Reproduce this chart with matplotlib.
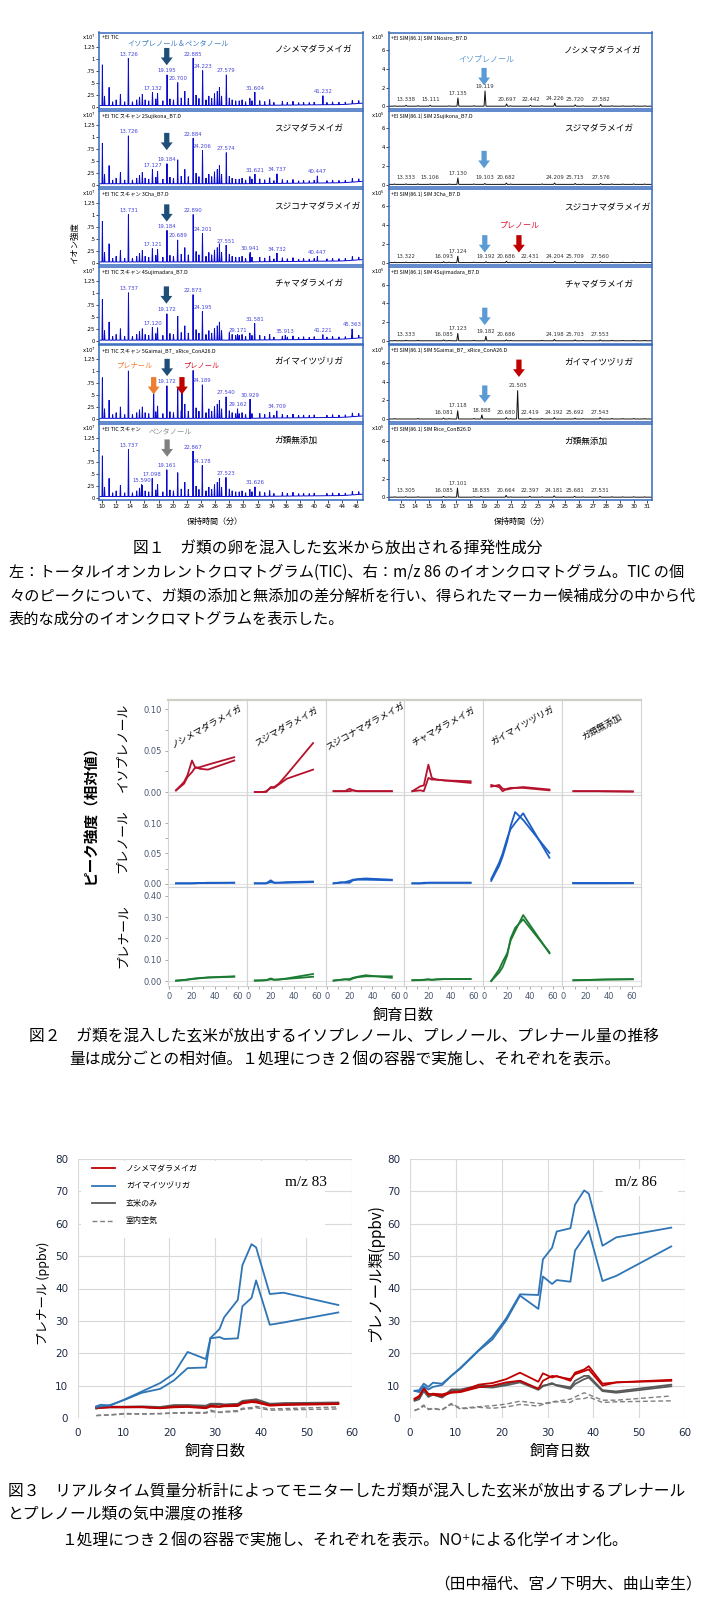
import matplotlib
matplotlib.use('Agg')
import matplotlib.pyplot as plt
from matplotlib.patches import Rectangle
from matplotlib.lines import Line2D
import numpy as np

plt.rcParams['font.family'] = ['Noto Sans CJK JP', 'DejaVu Sans']
plt.rcParams['axes.unicode_minus'] = False

# ======================= DATA =======================
# ---- Figure 1 ----
species = ['ノシメマダラメイガ', 'スジマダラメイガ', 'スジコナマダラメイガ',
           'チャマダラメイガ', 'ガイマイツヅリガ', 'ガ類無添加']
tic_headers = ['+EI TIC', '+EI TIC スキャン 2Sujikona_B7.D', '+EI TIC スキャン 3Cha_B7.D',
               '+EI TIC スキャン 4Sujimadara_B7.D', '+EI TIC スキャン 5Gaimai_B7_ xRice_ConA26.D',
               '+EI TIC スキャン']
sim_headers = ['+EI SIM(86.1) SIM 1Nosiro_B7.D', '+EI SIM(86.1) SIM 2Sujikona_B7.D',
               '+EI SIM(86.1) SIM 3Cha_B7.D', '+EI SIM(86.1) SIM 4Sujimadara_B7.D',
               '+EI SIM(86.1) SIM 5Gaimai_B7_ xRice_ConA26.D', '+EI SIM(86.1) SIM Rice_ConB26.D']

# common small TIC peaks (min, x10^7)
tic_bg_t = [10.05, 10.35, 11.0, 11.5, 12.0, 12.6, 13.2, 14.3, 14.9, 15.3, 15.7, 16.1, 16.6,
            17.6, 17.85, 18.6, 19.6, 20.1, 21.2, 21.7, 22.2, 23.3, 23.7, 24.7, 25.1, 25.5,
            25.9, 26.3, 26.6, 26.9, 28.0, 28.4, 28.9, 29.4, 29.8, 30.3, 30.9, 31.2, 32.3,
            33.0, 33.7, 34.3, 35.5, 36.2, 37.0, 37.8, 38.5, 39.3, 40.0, 41.8, 42.6, 43.5,
            44.4, 45.4, 46.3]
tic_bg_h = [0.85, 0.20, 0.38, 0.08, 0.12, 0.24, 0.08, 0.08, 0.12, 0.18, 0.24, 0.12, 0.10,
            0.14, 0.26, 0.10, 0.14, 0.12, 0.16, 0.30, 0.15, 0.22, 0.15, 0.12, 0.20, 0.15,
            0.25, 0.30, 0.38, 0.20, 0.16, 0.12, 0.10, 0.10, 0.12, 0.08, 0.15, 0.10, 0.10,
            0.08, 0.12, 0.06, 0.08, 0.06, 0.08, 0.05, 0.06, 0.05, 0.06, 0.05, 0.06, 0.05,
            0.05, 0.08, 0.06]
tic_base_t = [9.57, 30.0, 44.0, 46.9]
tic_base_h = [0.02, 0.02, 0.04, 0.07]

tic_pk_t = [
    [13.726, 17.132, 19.195, 20.700, 22.885, 24.223, 27.579, 31.604, 41.232],
    [13.726, 17.127, 19.184, 20.700, 22.884, 24.206, 27.574, 31.621, 34.737, 40.447],
    [13.731, 17.121, 19.184, 20.689, 22.890, 24.201, 27.551, 30.941, 34.732, 40.447],
    [13.737, 17.120, 19.172, 20.700, 22.873, 24.195, 29.171, 31.581, 35.913, 41.221, 45.363],
    [13.730, 17.300, 19.172, 20.700, 21.300, 22.880, 24.189, 27.540, 29.162, 30.929, 34.709],
    [13.737, 15.590, 17.098, 19.161, 20.700, 22.867, 24.178, 27.523, 31.626],
]
tic_pk_h = [
    [0.99, 0.28, 0.64, 0.48, 0.99, 0.73, 0.64, 0.28, 0.19],
    [1.00, 0.30, 0.42, 0.50, 0.95, 0.70, 0.65, 0.20, 0.20, 0.15],
    [0.99, 0.28, 0.66, 0.46, 0.99, 0.60, 0.35, 0.20, 0.18, 0.10],
    [0.99, 0.27, 0.55, 0.50, 0.95, 0.60, 0.12, 0.35, 0.10, 0.10, 0.20],
    [0.99, 0.52, 0.68, 0.62, 0.55, 1.00, 0.70, 0.45, 0.20, 0.40, 0.15],
    [0.99, 0.25, 0.38, 0.56, 0.50, 0.95, 0.65, 0.40, 0.20],
]
tic_pk_lab = [
    [1, 1, 1, 1, 1, 1, 1, 1, 1],
    [1, 1, 1, 0, 1, 1, 1, 1, 1, 1],
    [1, 1, 1, 1, 1, 1, 1, 1, 1, 1],
    [1, 1, 1, 0, 1, 1, 1, 1, 1, 1, 1],
    [0, 0, 1, 0, 0, 0, 1, 1, 1, 1, 1],
    [1, 1, 1, 1, 0, 1, 1, 1, 1],
]

sim_bg_t = [12.5, 14.2, 16.5, 18.3, 21.0, 23.3, 26.3, 28.4, 29.2, 30.0, 30.8]
sim_bg_h = [0.04, 0.05, 0.04, 0.05, 0.04, 0.05, 0.04, 0.05, 0.04, 0.05, 0.04]
sim_pk_t = [
    [13.338, 15.111, 17.135, 19.119, 20.697, 22.442, 24.226, 25.720, 27.582],
    [13.333, 15.106, 17.130, 19.103, 20.682, 24.209, 25.715, 27.576],
    [13.322, 16.093, 17.124, 19.192, 20.686, 22.431, 24.204, 25.709, 27.560],
    [13.333, 16.085, 17.123, 19.182, 20.686, 24.198, 25.703, 27.553],
    [16.081, 17.118, 18.888, 20.680, 21.505, 22.419, 24.192, 25.692, 27.543],
    [13.305, 16.085, 17.101, 18.835, 20.664, 22.397, 24.181, 25.681, 27.531],
]
sim_pk_h = [
    [0.10, 0.10, 0.90, 1.65, 0.25, 0.10, 0.35, 0.15, 0.20],
    [0.05, 0.05, 0.70, 0.10, 0.15, 0.15, 0.10, 0.10],
    [0.05, 0.10, 0.70, 0.10, 0.15, 0.10, 0.15, 0.10, 0.10],
    [0.05, 0.10, 0.80, 0.50, 0.10, 0.15, 0.10, 0.10],
    [0.10, 0.90, 0.45, 0.15, 3.05, 0.10, 0.15, 0.10, 0.15],
    [0.05, 0.10, 1.00, 0.10, 0.20, 0.10, 0.15, 0.10, 0.10],
]

# arrows (row, time, tip, colour)
tic_arrow_row = [0, 1, 2, 3, 4, 4, 4, 5]
tic_arrow_t = [19.15, 19.15, 19.15, 19.10, 19.20, 17.30, 21.30, 19.20]
tic_arrow_tip = [0.86, 0.72, 0.86, 0.78, 0.90, 0.52, 0.52, 0.85]
tic_arrow_c = ['navy', 'navy', 'navy', 'navy', 'navy', 'orange', 'red', 'gray']
sim_arrow_row = [0, 1, 2, 2, 3, 4, 4]
sim_arrow_t = [19.05, 19.05, 19.10, 21.60, 19.10, 19.10, 21.60]
sim_arrow_tip = [2.25, 1.75, 1.10, 1.10, 1.70, 1.75, 4.50]
sim_arrow_c = ['light', 'light', 'light', 'red', 'light', 'light', 'red']

tic_note_row = [0, 4, 4, 5]
tic_note_t = [20.7, 14.6, 24.0, 19.6]
tic_note_y = [1.32, 1.12, 1.12, 1.35]
tic_note_txt = ['イソプレノール＆ペンタノール', 'プレナール', 'プレノール', 'ペンタノール']
tic_note_c = ['#3C7DC4', '#ED7D31', '#D0102A', '#8C8C8C']
sim_note_row = [0, 2]
sim_note_t = [19.2, 21.7]
sim_note_y = [5.0, 4.0]
sim_note_txt = ['イソプレノール', 'プレノール']
sim_note_c = ['#5B9BD5', '#E0102F']

# ---- Figure 2 ----
f2_species = species
f2_rows = ['イソプレノール', 'プレノール', 'プレナール']
f2_days = [6, 13, 16, 20, 23, 27, 34, 57]
f2_days_ctrl = [9, 16, 19, 23, 26, 30, 37, 61]
iso_a = [[0.002, 0.012, 0.020, 0.038, 0.029, 0.030, 0.033, 0.042],
         [0.000, 0.000, 0.000, 0.006, 0.006, 0.010, 0.021, 0.059],
         [0.001, 0.001, 0.001, 0.004, 0.002, 0.001, 0.001, 0.001],
         [0.001, 0.007, 0.008, 0.033, 0.017, 0.015, 0.014, 0.013],
         [0.0085, 0.006, 0.001, 0.004, 0.005, 0.005, 0.006, 0.003],
         [0.001, 0.001, 0.001, 0.001, 0.001, 0.001, 0.0008, 0.0005]]
iso_b = [[0.002, 0.010, 0.018, 0.024, 0.030, 0.028, 0.027, 0.038],
         [0.000, 0.000, 0.001, 0.005, 0.005, 0.009, 0.016, 0.027],
         [0.001, 0.001, 0.001, 0.001, 0.002, 0.001, 0.001, 0.001],
         [0.001, 0.002, 0.001, 0.017, 0.015, 0.015, 0.014, 0.011],
         [0.0065, 0.0085, 0.004, 0.003, 0.004, 0.005, 0.005, 0.002],
         [0.001, 0.001, 0.001, 0.001, 0.001, 0.001, 0.001, 0.0007]]
pol_a = [[0.001, 0.001, 0.001, 0.001, 0.001, 0.0015, 0.0015, 0.002],
         [0.001, 0.001, 0.001, 0.006, 0.002, 0.002, 0.002, 0.003],
         [0.001, 0.002, 0.003, 0.005, 0.007, 0.008, 0.009, 0.007],
         [0.001, 0.001, 0.002, 0.002, 0.002, 0.002, 0.002, 0.002],
         [0.005, 0.030, 0.045, 0.070, 0.095, 0.118, 0.105, 0.051],
         [0.001, 0.001, 0.001, 0.001, 0.001, 0.001, 0.001, 0.001]]
pol_b = [[0.001, 0.001, 0.001, 0.001, 0.0015, 0.0015, 0.002, 0.002],
         [0.001, 0.001, 0.001, 0.003, 0.002, 0.002, 0.003, 0.004],
         [0.001, 0.003, 0.002, 0.002, 0.006, 0.007, 0.007, 0.006],
         [0.001, 0.001, 0.001, 0.002, 0.002, 0.002, 0.002, 0.002],
         [0.008, 0.035, 0.050, 0.075, 0.090, 0.100, 0.116, 0.043],
         [0.001, 0.001, 0.001, 0.001, 0.001, 0.001, 0.001, 0.0012]]
nal_a = [[0.002, 0.005, 0.007, 0.010, 0.012, 0.014, 0.017, 0.022],
         [0.002, 0.003, 0.004, 0.012, 0.006, 0.007, 0.012, 0.033],
         [0.002, 0.006, 0.008, 0.009, 0.015, 0.020, 0.027, 0.015],
         [0.004, 0.005, 0.006, 0.008, 0.006, 0.008, 0.009, 0.010],
         [0.000, 0.055, 0.090, 0.130, 0.190, 0.235, 0.310, 0.130],
         [0.004, 0.004, 0.005, 0.005, 0.006, 0.006, 0.007, 0.009]]
nal_b = [[0.001, 0.004, 0.006, 0.009, 0.011, 0.013, 0.016, 0.020],
         [0.002, 0.003, 0.004, 0.008, 0.006, 0.007, 0.010, 0.020],
         [0.002, 0.006, 0.008, 0.005, 0.012, 0.018, 0.022, 0.022],
         [0.003, 0.004, 0.005, 0.007, 0.005, 0.007, 0.009, 0.009],
         [0.000, 0.040, 0.065, 0.120, 0.200, 0.250, 0.290, 0.135],
         [0.003, 0.004, 0.004, 0.005, 0.005, 0.006, 0.007, 0.008]]

# ---- Figure 3 ----
days83 = [4, 5, 7, 10, 14, 18, 21, 24, 28, 29, 31, 32, 35, 36, 38, 39, 42, 45, 57]
gai83_a = [3.6, 4.1, 3.8, 5.6, 8.2, 10.8, 13.7, 20.4, 18.2, 24.7, 27.5, 31.1, 36.5, 47.2, 53.7, 52.7, 38.3, 38.7, 34.9]
gai83_b = [3.4, 3.6, 4.0, 5.5, 7.8, 9.0, 11.6, 15.4, 15.6, 24.6, 25.0, 24.4, 24.6, 34.5, 37.1, 42.5, 28.8, 29.5, 32.6]
nos83_a = [3.4, 3.3, 3.4, 3.4, 3.4, 3.1, 3.5, 3.6, 3.2, 3.8, 3.6, 3.9, 4.0, 4.8, 5.2, 5.1, 4.0, 4.2, 4.5]
nos83_b = [3.2, 3.1, 3.3, 3.3, 3.3, 3.0, 3.3, 3.4, 3.0, 3.5, 3.4, 3.6, 3.7, 4.5, 4.9, 4.8, 3.8, 4.0, 4.3]
rice83_a = [3.0, 3.4, 3.5, 3.5, 3.6, 3.4, 4.0, 4.0, 3.8, 4.4, 4.4, 4.2, 4.4, 5.3, 5.6, 5.8, 4.4, 4.6, 4.8]
rice83_b = [2.9, 3.2, 3.3, 3.3, 3.4, 3.2, 3.7, 3.8, 3.5, 4.1, 4.2, 4.0, 4.2, 5.0, 5.3, 5.5, 4.2, 4.4, 4.6]
air83_a = [0.8, 0.9, 1.0, 1.4, 1.3, 1.4, 1.6, 1.7, 1.7, 2.4, 1.8, 2.0, 2.3, 3.0, 3.2, 3.6, 2.8, 2.9, 3.4]
air83_b = [0.7, 0.8, 0.9, 1.2, 1.2, 1.3, 1.5, 1.5, 1.5, 2.0, 1.7, 1.8, 2.0, 2.7, 2.9, 3.2, 2.4, 2.5, 2.8]

days86 = [1, 2, 3, 4, 5, 7, 9, 11, 15, 18, 21, 24, 28, 29, 31, 32, 35, 36, 38, 39, 42, 45, 57]
gai86_a = [8.4, 8.6, 10.6, 9.6, 10.9, 10.6, 13.0, 15.5, 21.0, 25.1, 30.8, 38.2, 38.0, 49.0, 52.6, 57.6, 58.6, 65.9, 70.3, 69.3, 53.2, 55.8, 58.8]
gai86_b = [8.4, 8.0, 9.8, 8.8, 9.6, 10.2, 13.0, 15.3, 20.8, 24.3, 30.2, 37.8, 33.7, 43.7, 41.4, 42.6, 42.1, 51.7, 55.8, 57.8, 42.3, 43.9, 53.0]
nos86_a = [5.8, 6.5, 9.5, 7.2, 7.5, 7.3, 8.0, 8.2, 10.3, 10.8, 12.0, 14.0, 11.2, 13.8, 12.5, 13.0, 11.5, 14.0, 15.0, 16.0, 10.6, 11.0, 11.8]
nos86_b = [6.0, 6.8, 9.0, 7.5, 7.2, 6.8, 7.8, 8.0, 9.5, 10.0, 11.0, 11.5, 9.0, 11.5, 13.0, 12.8, 12.0, 13.5, 14.5, 15.0, 10.0, 11.0, 11.5]
rice86_a = [5.5, 6.0, 8.8, 6.8, 7.5, 6.5, 8.8, 8.8, 10.0, 9.8, 10.5, 11.5, 9.0, 10.0, 10.5, 10.2, 9.5, 11.5, 13.0, 13.0, 8.6, 8.2, 10.3]
rice86_b = [5.3, 5.8, 8.3, 6.5, 7.2, 6.3, 8.5, 8.5, 9.6, 9.4, 10.1, 11.0, 8.7, 9.8, 10.8, 10.0, 9.0, 10.5, 12.0, 12.5, 8.3, 7.8, 9.8]
air86_a = [2.2, 3.0, 4.0, 2.8, 3.0, 2.6, 4.5, 3.0, 3.5, 3.8, 4.3, 5.2, 4.5, 4.4, 5.0, 5.2, 5.8, 6.5, 7.8, 7.2, 5.5, 5.5, 6.8]
air86_b = [2.5, 2.7, 3.7, 2.6, 2.8, 2.5, 4.2, 2.8, 3.3, 3.0, 3.4, 4.2, 3.7, 4.2, 4.8, 5.0, 4.8, 5.8, 6.0, 6.5, 4.8, 5.0, 5.3]
f3_legend = ['ノシメマダラメイガ', 'ガイマイツヅリガ', '玄米のみ', '室内空気']

# ======================= FIGURE =======================
W, H = 705, 1605
fig = plt.figure(figsize=(W / 100, H / 100), dpi=100)


def box(x0, y0, x1, y1):
    return fig.add_axes([x0 / W, 1 - y1 / H, (x1 - x0) / W, (y1 - y0) / H])


def ftext(x, y, s, **kw):
    fig.text(x / W, 1 - y / H, s, **kw)


def spikes(ax, ts, hs, base_t, base_h, w, color, lw):
    pts = sorted(zip(ts, hs))
    xs, ys = [base_t[0]], [base_h[0]]
    for t, h in pts:
        b = float(np.interp(t, base_t, base_h))
        xs += [t - w, t, t + w]
        ys += [b, b + h, b]
    xs.append(base_t[-1])
    ys.append(base_h[-1])
    ax.plot(xs, ys, color=color, lw=lw, solid_joinstyle='miter')


def down_arrow(ax, t, tip, length, color):
    ax.annotate('', xy=(t, tip), xytext=(t, tip + length),
                arrowprops=dict(arrowstyle='simple,head_length=0.62,head_width=0.95,tail_width=0.42',
                                fc=color, ec='none', shrinkA=0, shrinkB=0, mutation_scale=9))


arrow_cols = {'navy': '#1F4E79', 'light': '#5B9BD5', 'red': '#C00000',
              'orange': '#ED7D31', 'gray': '#7F7F7F'}
frame_c = '#3569BE'

L_X0, L_X1 = 99, 363
R_X0, R_X1 = 389, 652
ROW_TOP0, ROW_STEP, ROW_H = 32.5, 78.2, 76.5
L_XLIM, L_YLIM = (9.57, 46.9), (-0.052, 1.542)
R_XLIM, R_YLIM = (12.09, 31.34), (-0.27, 7.87)

left_axes, right_axes = [], []
for i in range(6):
    top = ROW_TOP0 + i * ROW_STEP
    axl = box(L_X0, top, L_X1, top + ROW_H)
    axr = box(R_X0, top, R_X1, top + ROW_H)
    left_axes.append(axl)
    right_axes.append(axr)

    # --- TIC
    spikes(axl, list(tic_bg_t) + tic_pk_t[i], list(tic_bg_h) + tic_pk_h[i],
           tic_base_t, tic_base_h, 0.06, '#0A0ACF', 0.7)
    for t, h, lab in zip(tic_pk_t[i], tic_pk_h[i], tic_pk_lab[i]):
        if lab:
            b = float(np.interp(t, tic_base_t, tic_base_h))
            axl.text(t, b + h + 0.03, f'{t:.3f}', fontsize=3.9, color='#4444DD',
                     ha='center', va='bottom', family='DejaVu Sans')
    axl.set_xlim(*L_XLIM)
    axl.set_ylim(*L_YLIM)
    axl.set_yticks([0, 0.25, 0.5, 0.75, 1.0, 1.25])
    axl.set_yticklabels(['0', '.25', '.5', '.75', '1', '1.25'], fontsize=3.8, family='DejaVu Sans')
    axl.tick_params(axis='y', length=2, width=0.5, pad=0.8)
    axl.text(-0.012, 1.0, 'x10$^7$', transform=axl.transAxes, fontsize=3.8, ha='right', va='top',
             family='DejaVu Sans')
    axl.text(0.012, 0.965, tic_headers[i], transform=axl.transAxes, fontsize=3.8, ha='left', va='top')
    axl.text(0.665, 0.78, species[i], transform=axl.transAxes, fontsize=6.2, ha='left', va='center')

    # --- SIM
    spikes(axr, list(sim_bg_t) + sim_pk_t[i], list(sim_bg_h) + sim_pk_h[i],
           [12.09, 31.34], [0.03, 0.03], 0.07, '#111111', 0.7)
    for t, h in zip(sim_pk_t[i], sim_pk_h[i]):
        axr.text(t, max(h, 0.2) + 0.25, f'{t:.3f}', fontsize=3.9, color='#333333',
                 ha='center', va='bottom', family='DejaVu Sans')
    axr.set_xlim(*R_XLIM)
    axr.set_ylim(*R_YLIM)
    axr.set_yticks([0, 2, 4, 6])
    axr.set_yticklabels(['0', '2', '4', '6'], fontsize=3.8, family='DejaVu Sans')
    axr.tick_params(axis='y', length=2, width=0.5, pad=0.8)
    axr.text(-0.015, 1.0, 'x10$^5$', transform=axr.transAxes, fontsize=3.8, ha='right', va='top',
             family='DejaVu Sans')
    axr.text(0.008, 0.965, sim_headers[i], transform=axr.transAxes, fontsize=3.8, ha='left', va='top')
    axr.text(0.665, 0.77, species[i], transform=axr.transAxes, fontsize=6.2, ha='left', va='center')

    for ax in (axl, axr):
        for s in ax.spines.values():
            s.set_color(frame_c)
            s.set_linewidth(1.1)
        if i < 5:
            ax.set_xticks([])
    if i == 5:
        axl.set_xticks(np.arange(10, 47, 2))
        axl.set_xticklabels([str(v) for v in range(10, 47, 2)], fontsize=4.0, family='DejaVu Sans')
        axr.set_xticks(np.arange(13, 32, 1))
        axr.set_xticklabels([str(v) for v in range(13, 32)], fontsize=4.0, family='DejaVu Sans')
        for ax in (axl, axr):
            ax.tick_params(axis='x', length=2, width=0.5, pad=1)

for r, t, tip, c in zip(tic_arrow_row, tic_arrow_t, tic_arrow_tip, tic_arrow_c):
    down_arrow(left_axes[r], t, tip, 0.36, arrow_cols[c])
for r, t, tip, c in zip(sim_arrow_row, sim_arrow_t, sim_arrow_tip, sim_arrow_c):
    down_arrow(right_axes[r], t, tip, 1.85, arrow_cols[c])
for r, t, y, s, c in zip(tic_note_row, tic_note_t, tic_note_y, tic_note_txt, tic_note_c):
    left_axes[r].text(t, y, s, fontsize=5.2, color=c, ha='center', va='center')
for r, t, y, s, c in zip(sim_note_row, sim_note_t, sim_note_y, sim_note_txt, sim_note_c):
    right_axes[r].text(t, y, s, fontsize=5.8, color=c, ha='center', va='center')

ftext(75, 243, 'イオン強度', fontsize=6.0, rotation=90, ha='center', va='center')
ftext(215, 521, '保持時間（分）', fontsize=5.8, ha='center', va='center')
ftext(522, 521, '保持時間（分）', fontsize=5.8, ha='center', va='center')

CAP = 11.3
CAP_BODY = 10.95
ftext(133, 549, '図１　ガ類の卵を混入した玄米から放出される揮発性成分', fontsize=CAP, va='center')
ftext(9, 572, '左：トータルイオンカレントクロマトグラム(TIC)、右：m/z 86 のイオンクロマトグラム。TIC の個',
      fontsize=CAP_BODY, va='center')
ftext(9, 596, '々のピークについて、ガ類の添加と無添加の差分解析を行い、得られたマーカー候補成分の中から代',
      fontsize=CAP_BODY, va='center')
ftext(9, 619, '表的な成分のイオンクロマトグラムを表示した。', fontsize=CAP_BODY, va='center')

# ---------------- Figure 2 ----------------
F2_X0, F2_CW = 168, 78.8
f2_rows_y = [(700, 795), (795, 887), (887, 986)]
f2_ylims = [(-0.0036, 0.111), (-0.005, 0.146), (-0.0235, 0.442)]
f2_yt = [[0, 0.05, 0.10], [0, 0.05, 0.10], [0, 0.1, 0.2, 0.3, 0.4]]
f2_ytl = [['0.00', '0.05', '0.10'], ['0.00', '0.05', '0.10'],
          ['0.00', '0.10', '0.20', '0.30', '0.40']]
f2_colors = ['#B5122D', '#1B5EC6', '#1B7B33']
f2_data = [(iso_a, iso_b), (pol_a, pol_b), (nal_a, nal_b)]
tick_c = '#4B5870'
for r in range(3):
    for c in range(6):
        x0 = F2_X0 + c * F2_CW
        ax = box(x0, f2_rows_y[r][0], x0 + F2_CW, f2_rows_y[r][1])
        dd = f2_days_ctrl if c == 5 else f2_days
        for series in f2_data[r]:
            ax.plot(dd, series[c], color=f2_colors[r], lw=1.3)
        ax.set_xlim(-1, 68)
        ax.set_ylim(*f2_ylims[r])
        ax.axhline(0, color='#E2E2E2', lw=0.8, zorder=0)
        for s in ax.spines.values():
            s.set_color('#D4D4D4')
            s.set_linewidth(0.8)
        if r == 0:
            ax.spines['top'].set_color('#CFCFC8')
            ax.spines['top'].set_linewidth(1.6)
            ax.text(0.5, 0.72, f2_species[c], transform=ax.transAxes, rotation=29,
                    fontsize=6.4, ha='center', va='center')
        if c == 0:
            ax.set_yticks(f2_yt[r])
            ax.set_yticklabels(f2_ytl[r], fontsize=6.0, color=tick_c, family='DejaVu Sans')
            if r < 2:
                ax.set_yticks([0.025, 0.075], minor=True)
            ax.tick_params(axis='y', which='both', length=2.5, width=0.6, color='#9A9A9A', pad=2)
        else:
            ax.set_yticks([])
        if r == 2:
            ax.set_xticks([0, 20, 40, 60])
            ax.set_xticklabels(['0', '20', '40', '60'], fontsize=6.0, color=tick_c, family='DejaVu Sans')
            ax.set_xticks([10, 30, 50], minor=True)
            ax.tick_params(axis='x', which='both', length=2.5, width=0.6, color='#9A9A9A', pad=2)
        else:
            ax.set_xticks([])

for r in range(3):
    ftext(123, sum(f2_rows_y[r]) / 2, f2_rows[r], fontsize=9.2, rotation=90, ha='center', va='center')
ftext(90, 811, 'ピーク強度（相対値）', fontsize=10.5, rotation=90, ha='center', va='center', weight='bold')
ftext(403, 1015, '飼育日数', fontsize=11, ha='center', va='center')

ftext(29, 1037, '図２　ガ類を混入した玄米が放出するイソプレノール、プレノール、プレナール量の推移',
      fontsize=CAP, va='center')
ftext(69, 1060, '量は成分ごとの相対値。１処理につき２個の容器で実施し、それぞれを表示。', fontsize=CAP, va='center')

# ---------------- Figure 3 ----------------
c_red, c_blue, c_gray, c_dash = '#C00000', '#2E75B6', '#595959', '#7F7F7F'
dash = (0, (3.5, 2))
axL = box(78, 1159, 352, 1418)
axR = box(410, 1159, 685, 1418)
f3_sets = [
    (axL, days83, [gai83_a, gai83_b], [nos83_a, nos83_b], [rice83_a, rice83_b], [air83_a, air83_b]),
    (axR, days86, [gai86_a, gai86_b], [nos86_a, nos86_b], [rice86_a, rice86_b], [air86_a, air86_b]),
]
for ax, dd, gai, nos, rice, air in f3_sets:
    for s in air:
        ax.plot(dd, s, color=c_dash, lw=1.0, ls=dash, zorder=2)
    for s in rice:
        ax.plot(dd, s, color=c_gray, lw=1.3, zorder=3)
    for s in nos:
        ax.plot(dd, s, color=c_red, lw=1.3, zorder=4)
    for s in gai:
        ax.plot(dd, s, color=c_blue, lw=1.3, zorder=5)
    ax.set_xlim(0, 60)
    ax.set_ylim(0, 80)
    ax.set_xticks(range(0, 61, 10))
    ax.set_yticks(range(0, 81, 10))
    ax.tick_params(length=0, labelsize=7.5, labelcolor='#1E2A44', pad=7)
    for lab in ax.get_xticklabels() + ax.get_yticklabels():
        lab.set_family('DejaVu Sans')
    ax.grid(True, color='#D9D9D9', lw=0.8)
    ax.set_axisbelow(True)
    for s in ax.spines.values():
        s.set_visible(False)

axL.add_patch(Rectangle((0.6, 55.5), 53.5, 24.0, facecolor='white', edgecolor='none', zorder=1))
axR.add_patch(Rectangle((42.0, 68.5), 16.5, 8.5, facecolor='white', edgecolor='none', zorder=1))
axL.text(49.9, 72.6, 'm/z 83', family='Liberation Serif', fontsize=11, ha='center', va='center', zorder=6)
axR.text(49.3, 72.6, 'm/z 86', family='Liberation Serif', fontsize=11, ha='center', va='center', zorder=6)

handles = [Line2D([], [], color=c_red, lw=1.3), Line2D([], [], color=c_blue, lw=1.3),
           Line2D([], [], color=c_gray, lw=1.3), Line2D([], [], color=c_dash, lw=1.0, ls=dash)]
axL.legend(handles, f3_legend, loc='upper left', bbox_to_anchor=((92 - 78) / 274, (1418 - 1164) / 259),
           frameon=False, fontsize=5.8, handlelength=2.8, handletextpad=1.4, labelspacing=1.05,
           borderpad=0, borderaxespad=0)

ftext(43, 1293, 'プレナール (ppbv)', fontsize=9, rotation=90, ha='center', va='center')
ftext(375, 1272, 'プレノール類(ppbv)', fontsize=11, rotation=90, ha='center', va='center')
ftext(215, 1451, '飼育日数', fontsize=11, ha='center', va='center')
ftext(560, 1451, '飼育日数', fontsize=11, ha='center', va='center')

ftext(8, 1492, '図３　リアルタイム質量分析計によってモニターしたガ類が混入した玄米が放出するプレナール',
      fontsize=CAP, va='center')
ftext(8, 1515, 'とプレノール類の気中濃度の推移', fontsize=CAP, va='center')
ftext(61, 1541, '１処理につき２個の容器で実施し、それぞれを表示。NO⁺による化学イオン化。', fontsize=CAP, va='center')
ftext(702, 1584, '（田中福代、宮ノ下明大、曲山幸生）', fontsize=CAP, va='center', ha='right')

fig.savefig('out.png', dpi=100, facecolor='white')
